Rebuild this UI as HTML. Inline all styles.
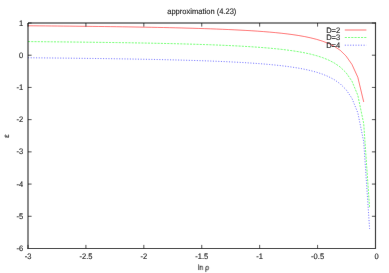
<!DOCTYPE html>
<html><head><meta charset="utf-8"><style>
html,body{margin:0;padding:0;background:#fff;}
svg{display:block;will-change:transform}
text{font-family:"Liberation Sans",sans-serif;font-size:7.9px;fill:#000;stroke:#000;stroke-width:0.1px;text-rendering:geometricPrecision}
</style></head><body>
<svg width="389" height="273" viewBox="0 0 389 273">
<defs><filter id="bl" x="0" y="0" width="389" height="273" filterUnits="userSpaceOnUse"><feConvolveMatrix order="3" kernelMatrix="0.00163 0.03713 0.00163 0.03713 0.84497 0.03713 0.00163 0.03713 0.00163" edgeMode="duplicate" preserveAlpha="true"/></filter></defs>
<rect width="389" height="273" fill="#fff"/>
<g filter="url(#bl)">
<rect width="389" height="273" fill="#fff"/>

<polyline points="28.00,25.77 33.89,25.82 39.78,25.87 45.67,25.92 51.56,25.97 57.45,26.03 63.34,26.08 69.23,26.14 75.12,26.21 81.01,26.27 86.90,26.34 92.79,26.41 98.68,26.48 104.57,26.55 110.46,26.63 116.35,26.71 122.24,26.80 128.13,26.89 134.02,26.99 139.91,27.09 145.80,27.19 151.69,27.30 157.58,27.42 163.47,27.54 169.36,27.67 175.25,27.81 181.14,27.95 187.03,28.11 192.92,28.27 198.81,28.45 204.69,28.64 210.58,28.84 216.47,29.05 222.36,29.29 228.25,29.54 234.14,29.81 240.03,30.11 245.92,30.43 251.81,30.78 257.70,31.17 263.59,31.60 269.48,32.08 275.37,32.62 281.26,33.22 287.15,33.90 293.04,34.68 298.93,35.57 304.82,36.62 310.71,37.86 316.60,39.35 322.49,41.16 328.38,43.43 334.27,46.35 340.16,50.24 346.05,56.00 351.94,64.40 357.83,77.30 363.72,102.00" fill="none" stroke="#ff0000" stroke-width="0.56"/>
<polyline points="28.00,41.60 33.89,41.65 39.78,41.70 45.67,41.75 51.56,41.81 57.45,41.86 63.34,41.92 69.23,41.99 75.12,42.05 81.01,42.12 86.90,42.19 92.79,42.26 98.68,42.33 104.57,42.41 110.46,42.49 116.35,42.58 122.24,42.67 128.13,42.76 134.02,42.86 139.91,42.97 145.80,43.07 151.69,43.19 157.58,43.31 163.47,43.44 169.36,43.57 175.25,43.71 181.14,43.87 187.03,44.03 192.92,44.20 198.81,44.38 204.69,44.58 210.58,44.78 216.47,45.01 222.36,45.25 228.25,45.51 234.14,45.80 240.03,46.10 245.92,46.44 251.81,46.81 257.70,47.21 263.59,47.66 269.48,48.15 275.37,48.71 281.26,49.33 287.15,50.04 293.04,50.85 298.93,51.78 304.82,52.87 310.71,54.16 316.60,55.70 322.49,57.59 328.38,59.94 334.27,62.98 340.16,67.02 346.05,72.68 351.94,81.17 357.83,95.32 363.72,123.62 369.61,208.30" fill="none" stroke="#00ff00" stroke-width="0.56" stroke-dasharray="2.1,1.14"/>
<polyline points="28.00,57.78 33.89,57.83 39.78,57.88 45.67,57.93 51.56,57.99 57.45,58.05 63.34,58.11 69.23,58.17 75.12,58.24 81.01,58.31 86.90,58.38 92.79,58.45 98.68,58.53 104.57,58.61 110.46,58.69 116.35,58.78 122.24,58.87 128.13,58.97 134.02,59.07 139.91,59.18 145.80,59.29 151.69,59.40 157.58,59.53 163.47,59.66 169.36,59.80 175.25,59.94 181.14,60.10 187.03,60.26 192.92,60.44 198.81,60.62 204.69,60.82 210.58,61.04 216.47,61.27 222.36,61.52 228.25,61.78 234.14,62.07 240.03,62.39 245.92,62.73 251.81,63.11 257.70,63.52 263.59,63.98 269.48,64.49 275.37,65.06 281.26,65.70 287.15,66.42 293.04,67.25 298.93,68.21 304.82,69.32 310.71,70.64 316.60,72.22 322.49,74.15 328.38,76.57 334.27,79.67 340.16,83.81 346.05,89.61 351.94,98.30 357.83,112.80 363.72,141.78 369.61,228.90" fill="none" stroke="#0000ff" stroke-width="0.56" stroke-dasharray="1.1,1.58"/>
<path d="M28.0,249.05V23.0H376.05" fill="none" stroke="#000" stroke-width="0.95" stroke-linejoin="miter"/>
<path d="M27.53,248.5H375.5V22.53" fill="none" stroke="#000" stroke-width="1.15" stroke-linejoin="miter"/>
<path d="M28.00,248.5v-3.6M28.00,23.0v3.6" stroke="#000" stroke-width="0.72"/>
<text transform="translate(28.00,259.00) scale(0.955,1)" text-anchor="middle">-3</text>
<path d="M85.92,248.5v-3.6M85.92,23.0v3.6" stroke="#000" stroke-width="0.72"/>
<text transform="translate(85.92,259.00) scale(0.955,1)" text-anchor="middle">-2.5</text>
<path d="M143.83,248.5v-3.6M143.83,23.0v3.6" stroke="#000" stroke-width="0.72"/>
<text transform="translate(143.83,259.00) scale(0.955,1)" text-anchor="middle">-2</text>
<path d="M201.75,248.5v-3.6M201.75,23.0v3.6" stroke="#000" stroke-width="0.72"/>
<text transform="translate(201.75,259.00) scale(0.955,1)" text-anchor="middle">-1.5</text>
<path d="M259.67,248.5v-3.6M259.67,23.0v3.6" stroke="#000" stroke-width="0.72"/>
<text transform="translate(259.67,259.00) scale(0.955,1)" text-anchor="middle">-1</text>
<path d="M317.58,248.5v-3.6M317.58,23.0v3.6" stroke="#000" stroke-width="0.72"/>
<text transform="translate(317.58,259.00) scale(0.955,1)" text-anchor="middle">-0.5</text>
<path d="M375.50,248.5v-3.6M375.50,23.0v3.6" stroke="#000" stroke-width="0.72"/>
<text transform="translate(376.50,259.00) scale(0.955,1)" text-anchor="middle">0</text>
<path d="M28.0,23.00h3.6M375.5,23.00h-3.6" stroke="#000" stroke-width="0.72"/>
<text transform="translate(23.20,26.28) scale(0.955,1)" text-anchor="end">1</text>
<path d="M28.0,55.21h3.6M375.5,55.21h-3.6" stroke="#000" stroke-width="0.72"/>
<text transform="translate(23.20,57.64) scale(0.955,1)" text-anchor="end">0</text>
<path d="M28.0,87.43h3.6M375.5,87.43h-3.6" stroke="#000" stroke-width="0.72"/>
<text transform="translate(23.20,89.86) scale(0.955,1)" text-anchor="end">-1</text>
<path d="M28.0,119.64h3.6M375.5,119.64h-3.6" stroke="#000" stroke-width="0.72"/>
<text transform="translate(23.20,122.07) scale(0.955,1)" text-anchor="end">-2</text>
<path d="M28.0,151.86h3.6M375.5,151.86h-3.6" stroke="#000" stroke-width="0.72"/>
<text transform="translate(23.20,154.29) scale(0.955,1)" text-anchor="end">-3</text>
<path d="M28.0,184.07h3.6M375.5,184.07h-3.6" stroke="#000" stroke-width="0.72"/>
<text transform="translate(23.20,186.50) scale(0.955,1)" text-anchor="end">-4</text>
<path d="M28.0,216.29h3.6M375.5,216.29h-3.6" stroke="#000" stroke-width="0.72"/>
<text transform="translate(23.20,218.71) scale(0.955,1)" text-anchor="end">-5</text>
<path d="M28.0,248.50h3.6M375.5,248.50h-3.6" stroke="#000" stroke-width="0.72"/>
<text transform="translate(23.20,250.93) scale(0.955,1)" text-anchor="end">-6</text>
<text transform="translate(201.80,14.40) scale(0.955,1)" text-anchor="middle">approximation (4.23)</text>
<text transform="translate(203.40,270.05) scale(0.8594999999999999,1)" text-anchor="middle">ln ρ</text>
<text transform="translate(8.60,136.00) rotate(-90) scale(0.955,1)" text-anchor="middle">ε</text>
<text transform="translate(340.20,32.63) scale(0.955,1)" text-anchor="end">D=2</text>
<path d="M344.8,30.00H366.4" stroke="#ff0000" stroke-width="0.56"/>
<text transform="translate(340.20,40.03) scale(0.955,1)" text-anchor="end">D=3</text>
<path d="M344.8,37.50H366.4" stroke="#00ff00" stroke-width="0.56" stroke-dasharray="2.1,1.14"/>
<text transform="translate(340.20,47.63) scale(0.955,1)" text-anchor="end">D=4</text>
<path d="M344.8,45.20H366.4" stroke="#0000ff" stroke-width="0.56" stroke-dasharray="1.1,1.58"/>
</g></svg></body></html>
